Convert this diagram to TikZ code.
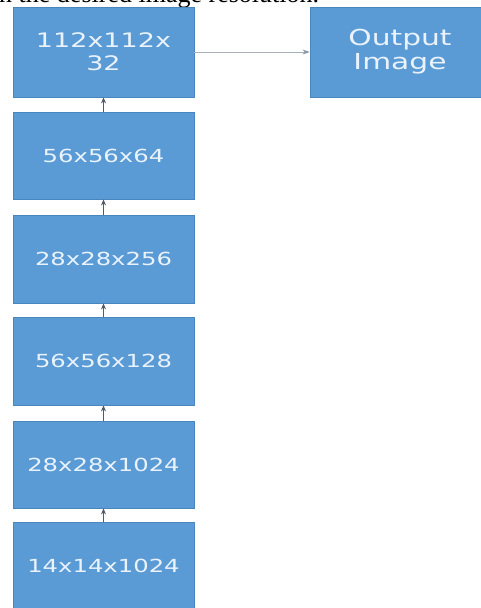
\documentclass[tikz,border=0pt]{standalone}
\usepackage{fontspec}
\setmainfont{Liberation Serif}
\newfontfamily\boxfont[FakeStretch=1.35]{DejaVu Sans}
\usetikzlibrary{arrows.meta}
\definecolor{boxblue}{HTML}{5B9BD5}
\definecolor{boxedge}{HTML}{4A86BE}
\definecolor{boxtext}{HTML}{EAF3FB}
\definecolor{upline}{HTML}{4F5B68}
\definecolor{sideline}{HTML}{A7AFB8}
\definecolor{sidetip}{HTML}{8B95A0}
\tikzset{
  layer/.style={draw=boxedge, line width=0.8pt, fill=boxblue, text=boxtext,
    inner sep=0pt, minimum width=181pt, align=center,
    font=\boxfont\fontsize{18}{23}\selectfont},
  uparrow/.style={draw=upline, line width=0.9pt,
    -{Stealth[length=6pt,width=5pt]}},
  sidearrow/.style={draw=sideline, line width=0.9pt,
    -{Stealth[length=7pt,width=5pt,color=sidetip]}},
}
\begin{document}
\begin{tikzpicture}[x=1pt,y=-1pt]
  \useasboundingbox (0,0) rectangle (481,608);
  \clip (0,0) rectangle (481,608);
  \fill[white] (0,0) rectangle (481,608);

  % sentence running above the figure
  \node[anchor=base west, inner sep=0pt] (caption) at (-1,2)
    {\fontsize{26}{26}\selectfont n the desired image resolution.};

  % stack of feature-map sizes
  \node[layer, minimum height=90pt, font=\boxfont\fontsize{20}{23}\selectfont]
    (b1) at (103.5,52) {112x112x\\32};
  \node[layer, minimum height=87pt] (b2) at (103.5,155.5) {56x56x64};
  \node[layer, minimum height=88pt] (b3) at (103.5,259) {28x28x256};
  \node[layer, minimum height=88pt] (b4) at (103.5,361) {56x56x128};
  \node[layer, minimum height=87pt] (b5) at (103.5,464.5) {28x28x1024};
  \node[layer, minimum height=88pt] (b6) at (103.5,566) {14x14x1024};

  % output block
  \node[layer, minimum width=180pt, minimum height=90pt,
        font=\boxfont\fontsize{22}{24}\selectfont]
    (out) at (400,52) {Output\\Image};

  % connectors
  \draw[uparrow] (b6.north) -- (b5.south);
  \draw[uparrow] (b5.north) -- (b4.south);
  \draw[uparrow] (b4.north) -- (b3.south);
  \draw[uparrow] (b3.north) -- (b2.south);
  \draw[uparrow] (b2.north) -- (b1.south);
  \draw[sidearrow] (b1.east) -- (out.west);
\end{tikzpicture}
\end{document}
